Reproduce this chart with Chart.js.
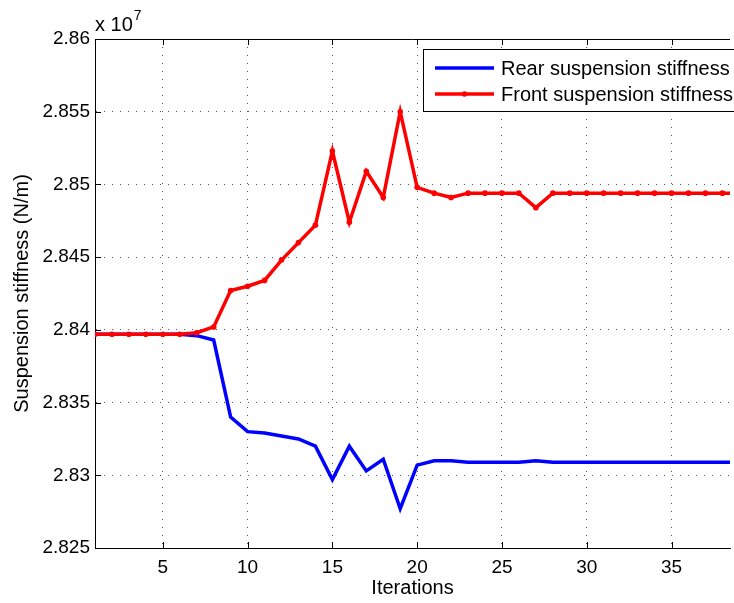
<!DOCTYPE html>
<html>
<head>
<meta charset="utf-8">
<script src="https://cdn.jsdelivr.net/npm/chart.js@4.4.0/dist/chart.umd.min.js"></script>
<style>
  html, body { margin: 0; padding: 0; background: #fff; overflow: hidden; }
  canvas { display: block; }
</style>
</head>
<body>
<canvas id="chart" width="734" height="603"></canvas>
<script>
// values are in units of 1e7 N/m
const iterations = [1, 2, 3, 4, 5, 6, 7, 8, 9, 10, 11, 12, 13, 14, 15, 16, 17, 18, 19, 20,
  21, 22, 23, 24, 25, 26, 27, 28, 29, 30, 31, 32, 33, 34, 35, 36, 37, 38, 39];
const rearStiffness = [2.8397, 2.8397, 2.8397, 2.8397, 2.8397, 2.8397, 2.8396, 2.8393, 2.8340, 2.8330,
  2.8329, 2.8327, 2.8325, 2.8320, 2.8297, 2.8320, 2.8303, 2.8311, 2.8277, 2.8307,
  2.8310, 2.8310, 2.8309, 2.8309, 2.8309, 2.8309, 2.8310, 2.8309, 2.8309, 2.8309,
  2.8309, 2.8309, 2.8309, 2.8309, 2.8309, 2.8309, 2.8309, 2.8309, 2.8309];
const frontStiffness = [2.8397, 2.8397, 2.8397, 2.8397, 2.8397, 2.8397, 2.8398, 2.8402, 2.8427, 2.8430,
  2.8434, 2.8448, 2.8460, 2.8472, 2.8523, 2.8474, 2.8509, 2.8491, 2.8550, 2.8498,
  2.8494, 2.8491, 2.8494, 2.8494, 2.8494, 2.8494, 2.8484, 2.8494, 2.8494, 2.8494,
  2.8494, 2.8494, 2.8494, 2.8494, 2.8494, 2.8494, 2.8494, 2.8494, 2.8494];
const xTicks = [5, 10, 15, 20, 25, 30, 35];
const yTicks = [2.825, 2.83, 2.835, 2.84, 2.845, 2.85, 2.855, 2.86];

const FONT = "'Liberation Sans', Arial, sans-serif";

function pairs(ys) {
  return iterations.map((x, i) => ({ x: x, y: ys[i] }));
}

// box top edge, inward tick marks, the "x 10^7" label and the legend
const matlabFrame = {
  id: "matlabFrame",
  afterDatasetsDraw(chart) {
    const { ctx, chartArea: a, scales } = chart;
    const tick = 6;
    ctx.save();
    ctx.strokeStyle = "#000";
    ctx.lineWidth = 1;
    ctx.beginPath();
    ctx.moveTo(a.left, a.top + 0.5);
    ctx.lineTo(a.right, a.top + 0.5);
    xTicks.forEach((v) => {
      const px = Math.round(scales.x.getPixelForValue(v)) + 0.5;
      ctx.moveTo(px, a.bottom);
      ctx.lineTo(px, a.bottom - tick);
      ctx.moveTo(px, a.top);
      ctx.lineTo(px, a.top + tick);
    });
    yTicks.forEach((v) => {
      const py = Math.round(scales.y.getPixelForValue(v)) + 0.5;
      ctx.moveTo(a.left, py);
      ctx.lineTo(a.left + tick, py);
    });
    ctx.stroke();

    // exponent label
    ctx.fillStyle = "#000";
    ctx.textBaseline = "alphabetic";
    ctx.textAlign = "left";
    ctx.font = "20px " + FONT;
    ctx.fillText("x 10", 95, 31);
    const w = ctx.measureText("x 10").width;
    ctx.font = "14px " + FONT;
    ctx.fillText("7", 95 + w + 1, 20);

    // legend
    const lx = 423, ly = 49, lw = 330, lh = 62;
    ctx.fillStyle = "#fff";
    ctx.fillRect(lx, ly, lw, lh);
    ctx.strokeStyle = "#000";
    ctx.lineWidth = 1;
    ctx.strokeRect(lx + 0.5, ly + 0.5, lw, lh);
    ctx.font = "20px " + FONT;
    ctx.textBaseline = "middle";
    chart.data.datasets.forEach((ds, i) => {
      const cy = 68 + i * 26;
      ctx.strokeStyle = ds.borderColor;
      ctx.lineWidth = 3.5;
      ctx.beginPath();
      ctx.moveTo(435, cy);
      ctx.lineTo(494, cy);
      ctx.stroke();
      if (ds.pointRadius > 0) {
        ctx.fillStyle = ds.pointBackgroundColor;
        ctx.beginPath();
        ctx.arc(464.5, cy, ds.pointRadius, 0, Math.PI * 2);
        ctx.fill();
      }
      ctx.fillStyle = "#000";
      ctx.fillText(ds.label, 501, cy + 1);
    });
    ctx.restore();
  },
};

new Chart(document.getElementById("chart"), {
  type: "line",
  data: {
    datasets: [
      {
        label: "Rear suspension stiffness",
        data: pairs(rearStiffness),
        borderColor: "#0000ff",
        borderWidth: 3.5,
        pointRadius: 0,
        tension: 0,
        order: 2,
      },
      {
        label: "Front suspension stiffness",
        data: pairs(frontStiffness),
        borderColor: "#ff0000",
        backgroundColor: "#ff0000",
        pointBackgroundColor: "#ff0000",
        pointBorderWidth: 0,
        borderWidth: 3.5,
        pointRadius: 2.8,
        tension: 0,
        order: 1,
      },
    ],
  },
  options: {
    responsive: false,
    animation: false,
    devicePixelRatio: 1,
    layout: { padding: { top: 39, right: 0, left: 0, bottom: 0 } },
    plugins: { legend: { display: false }, tooltip: { enabled: false } },
    scales: {
      x: {
        type: "linear",
        min: 1,
        max: 38.45,
        afterBuildTicks: (axis) => { axis.ticks = xTicks.map((v) => ({ value: v })); },
        afterFit: (axis) => { axis.height = 55; },
        grid: { color: "#555", lineWidth: 1, drawTicks: false },
        border: { color: "#000", width: 1, dash: [1, 7] },
        ticks: { color: "#000", font: { family: FONT, size: 19 }, padding: 8, maxRotation: 0 },
        title: {
          display: true,
          text: "Iterations",
          color: "#000",
          font: { family: FONT, size: 20 },
          padding: { top: 0, bottom: 3 },
        },
      },
      y: {
        min: 2.825,
        max: 2.86,
        afterBuildTicks: (axis) => { axis.ticks = yTicks.map((v) => ({ value: v })); },
        afterFit: (axis) => { axis.width = 95; },
        grid: { color: "#555", lineWidth: 1, drawTicks: false },
        border: { color: "#000", width: 1, dash: [1, 7] },
        ticks: {
          color: "#000",
          font: { family: FONT, size: 19 },
          padding: 5,
          callback: (v) => String(Number(v.toFixed(3))),
        },
        title: {
          display: true,
          text: "Suspension stiffness (N/m)",
          color: "#000",
          font: { family: FONT, size: 20 },
          padding: { top: 10, bottom: 0 },
        },
      },
    },
  },
  plugins: [matlabFrame],
});
</script>
</body>
</html>
